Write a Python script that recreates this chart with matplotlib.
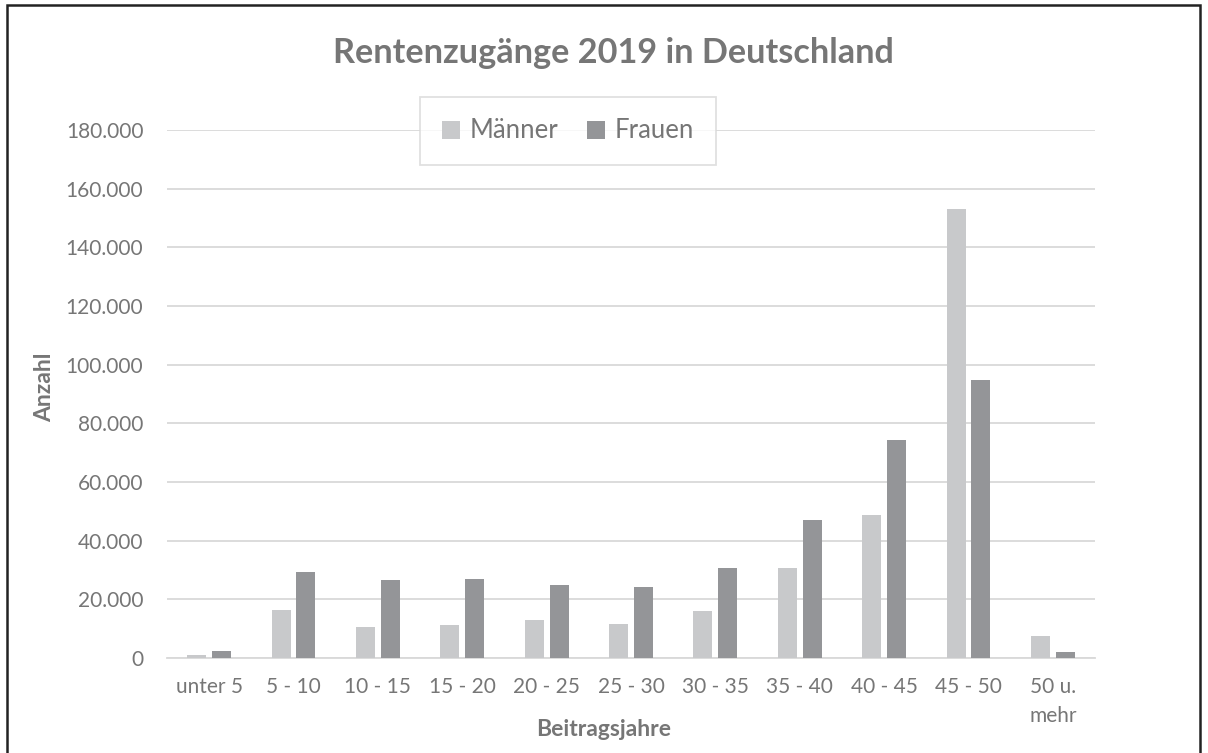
import matplotlib.pyplot as plt
import numpy as np
from matplotlib.patches import Rectangle
from matplotlib.ticker import FuncFormatter

# Werte
kategorien = ['unter 5', '5 - 10', '10 - 15', '15 - 20', '20 - 25', '25 - 30',
              '30 - 35', '35 - 40', '40 - 45', '45 - 50', '50 u.\nmehr']
maenner = [900, 16300, 10500, 11200, 12900, 11700, 16000, 30600, 48700, 153000, 7600]
frauen = [2300, 29200, 26600, 26900, 24900, 24300, 30700, 47000, 74300, 94700, 2000]

c_m = '#c8c9cb'
c_f = '#949598'
c_text = '#767676'

plt.rcParams['font.family'] = ['Lato', 'DejaVu Sans']

fig = plt.figure(figsize=(12.08, 7.53), dpi=100)
ax = fig.add_axes([167 / 1208, 1 - 658 / 753, (1095 - 167) / 1208, (658 - 130) / 753])

x = np.arange(len(kategorien))
w = 0.225
gap = 0.035
ax.bar(x - w / 2 - gap, maenner, w, color=c_m, label='Männer', zorder=3)
ax.bar(x + w / 2 + gap, frauen, w, color=c_f, label='Frauen', zorder=3)

ax.set_xlim(-0.5, len(kategorien) - 0.5)
ax.set_ylim(0, 180000)
ax.set_yticks(np.arange(0, 180001, 20000))
ax.yaxis.set_major_formatter(FuncFormatter(lambda v, p: f'{int(v):,}'.replace(',', '.')))
ax.set_xticks(x)
ax.set_xticklabels(kategorien, linespacing=1.55)
ax.grid(axis='y', color='#d9d9d9', linewidth=1.3, zorder=0)
for s in ['top', 'right', 'left']:
    ax.spines[s].set_visible(False)
ax.spines['bottom'].set_color('#d9d9d9')
ax.spines['bottom'].set_linewidth(1.3)
ax.tick_params(axis='both', length=0, labelsize=15, labelcolor=c_text)
ax.tick_params(axis='y', pad=17)
ax.tick_params(axis='x', pad=14)

ax.set_xlabel('Beitragsjahre', fontsize=16.5, fontweight='bold', color=c_text)
ax.xaxis.set_label_coords((604 - 167) / 928, -(729 - 658) / 528)
ax.xaxis.label.set_va('center')
ax.set_ylabel('Anzahl', fontsize=16.5, fontweight='bold', color=c_text)
ax.yaxis.set_label_coords(-(167 - 45) / 928, (658 - 387) / 528)
ax.yaxis.label.set_va('center')

fig.text(0.508, 1 - 53 / 753, 'Rentenzugänge 2019 in Deutschland', ha='center', va='center',
         fontsize=24.7, fontweight='bold', color=c_text)

leg = ax.legend(loc='center', bbox_to_anchor=((568 - 167) / 928, (658 - 131) / 528), ncol=2,
                fontsize=18.5, frameon=True, fancybox=False, handlelength=0.7,
                handleheight=0.7, handletextpad=0.4, columnspacing=1.1,
                borderpad=0.85)
leg.get_frame().set_edgecolor('#d9d9d9')
leg.get_frame().set_linewidth(1.3)
for t in leg.get_texts():
    t.set_color(c_text)

# Rahmen um die Grafik
fig.patches.append(Rectangle((7 / 1208, -0.01), 1193 / 1208, 1 - 5 / 753 + 0.01,
                             transform=fig.transFigure, fill=False, edgecolor='#222222',
                             linewidth=1.8))

fig.savefig('out.png', dpi=100)
